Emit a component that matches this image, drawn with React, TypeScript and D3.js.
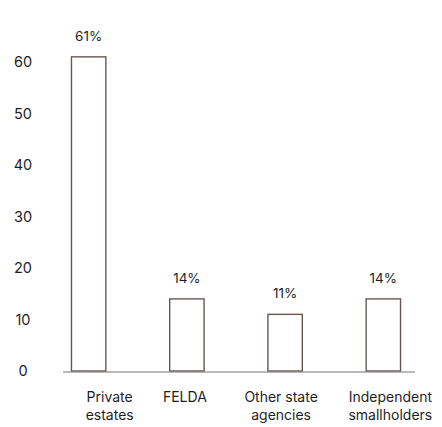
import { useEffect, useRef } from "react";
import * as d3 from "d3";

const categories = ["Private estates", "FELDA", "Other state agencies", "Independent smallholders"];
const categoryLines = [
  ["Private", "estates"],
  ["FELDA"],
  ["Other state", "agencies"],
  ["Independent", "smallholders"],
];
const shares = [61, 14, 11, 14];
const shareLabels = ["61%", "14%", "11%", "14%"];
const yTicks = [0, 10, 20, 30, 40, 50, 60];

const FONT = "Inter, 'Noto Sans', sans-serif";

const App = () => {
  const svgRef = useRef<SVGSVGElement>(null);

  useEffect(() => {
    const svg = d3.select(svgRef.current);
    svg.selectAll("*").remove();

    const x = d3
      .scaleBand()
      .domain(categories)
      .range([42, 430])
      .paddingInner(0.65)
      .paddingOuter(0.3);

    const y = d3.scaleLinear().domain([0, 60]).range([371, 62]);

    // y tick labels (no axis line)
    svg
      .append("g")
      .selectAll("text")
      .data(yTicks)
      .enter()
      .append("text")
      .attr("x", 23)
      .attr("y", (d) => y(d))
      .attr("dy", "0.36em")
      .attr("text-anchor", "middle")
      .style("font-family", FONT)
      .style("font-size", "14.5px")
      .attr("fill", "#1e1e1e")
      .text((d) => d);

    // bars, outline only
    svg
      .append("g")
      .selectAll("rect")
      .data(shares)
      .enter()
      .append("rect")
      .attr("x", (d, i) => x(categories[i])!)
      .attr("y", (d) => y(d))
      .attr("width", x.bandwidth())
      .attr("height", (d) => y(0) - y(d))
      .attr("fill", "#fff")
      .attr("stroke", "#6a5754")
      .attr("stroke-width", 1.4);

    // baseline
    svg
      .append("line")
      .attr("x1", 63)
      .attr("x2", 415)
      .attr("y1", y(0) + 1)
      .attr("y2", y(0) + 1)
      .attr("stroke", "#777")
      .attr("stroke-width", 1.2);

    // value labels
    svg
      .append("g")
      .selectAll("text")
      .data(shares)
      .enter()
      .append("text")
      .attr("x", (d, i) => x(categories[i])! + x.bandwidth() / 2)
      .attr("y", (d) => y(d) - 16)
      .attr("text-anchor", "middle")
      .style("font-family", FONT)
      .style("font-size", "13.5px")
      .attr("fill", "#1e1e1e")
      .text((d, i) => shareLabels[i]);

    // category labels, slightly shifted as in the original
    const labelShift = [21, -2, -4, 7];
    const cat = svg
      .append("g")
      .selectAll("text")
      .data(categories)
      .enter()
      .append("text")
      .attr("x", (d, i) => x(d)! + x.bandwidth() / 2 + labelShift[i])
      .attr("y", 402)
      .attr("text-anchor", "middle")
      .style("font-family", FONT)
      .style("font-size", "14px")
      .attr("fill", "#1e1e1e");

    cat
      .selectAll("tspan")
      .data((d, i) => categoryLines[i])
      .enter()
      .append("tspan")
      .attr("x", function () {
        return (this.parentNode as SVGTextElement).getAttribute("x");
      })
      .attr("dy", (d, i) => (i === 0 ? 0 : 18))
      .text((d) => d);
  }, []);

  return (
    <svg
      ref={svgRef}
      width={442}
      height={427}
      style={{ position: "absolute", left: 0, top: 0, background: "#fff" }}
    ></svg>
  );
};

export default App;
